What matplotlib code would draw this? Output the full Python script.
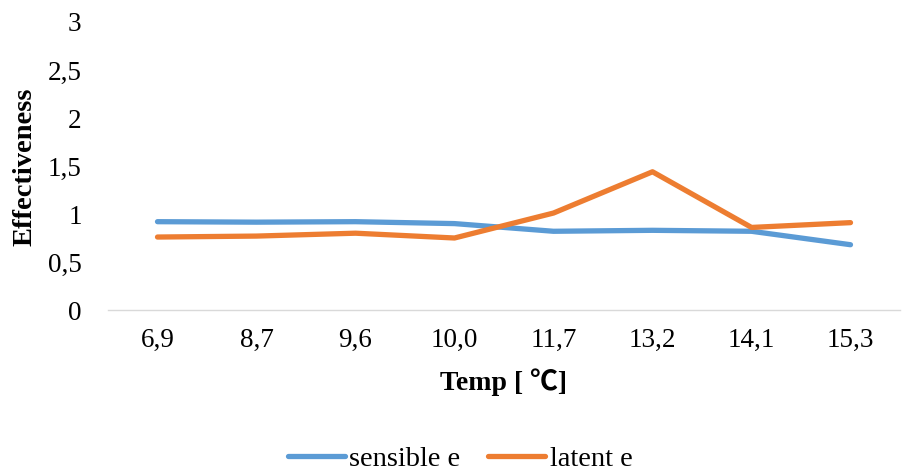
import matplotlib.pyplot as plt
import numpy as np

plt.rcParams['font.family'] = ['Liberation Serif', 'Noto Sans CJK SC', 'DejaVu Serif']

temps = ['6,9', '8,7', '9,6', '10,0', '11,7', '13,2', '14,1', '15,3']
sensible = [0.92, 0.915, 0.92, 0.90, 0.82, 0.83, 0.82, 0.68]
latent = [0.76, 0.77, 0.80, 0.75, 1.01, 1.44, 0.86, 0.91]
yticks = [0, 0.5, 1, 1.5, 2, 2.5, 3]
ylabels = ['0', '0,5', '1', '1,5', '2', '2,5', '3']

fig = plt.figure(figsize=(9.09, 4.75), dpi=100)
ax = fig.add_axes([108 / 909, 165 / 475, 792 / 909, 288 / 475])

x = np.arange(len(temps))
ax.plot(x, sensible, color='#5B9BD5', lw=3.8, solid_capstyle='round',
        solid_joinstyle='round', label='sensible e')
ax.plot(x, latent, color='#ED7D31', lw=3.8, solid_capstyle='round',
        solid_joinstyle='round', label='latent e')

ax.set_xlim(-0.5, len(temps) - 0.5)
ax.set_ylim(0, 3)
ax.set_xticks(x)
ax.set_xticklabels(temps)
ax.set_yticks(yticks)
ax.set_yticklabels(ylabels)
ax.tick_params(length=0, labelsize=19.5)
ax.tick_params(axis='x', pad=13)
ax.tick_params(axis='y', pad=19)

for s in ['top', 'right', 'left']:
    ax.spines[s].set_visible(False)
ax.spines['bottom'].set_color('#D9D9D9')
ax.spines['bottom'].set_linewidth(1.0)

ax.set_xlabel('Temp [ ℃]', fontsize=20, fontweight='bold', labelpad=11)
fig.text(25 / 909, 1 - 167 / 475, 'Effectiveness', rotation=90, fontsize=20.5,
         fontweight='bold', ha='center', va='center')

fig.legend(loc='center', bbox_to_anchor=(460 / 909, 1 - 459 / 475), ncol=2,
           frameon=False, fontsize=20.5, handlelength=2.0, handletextpad=0.15,
           columnspacing=1.0)

fig.savefig('out.png', dpi=100)
